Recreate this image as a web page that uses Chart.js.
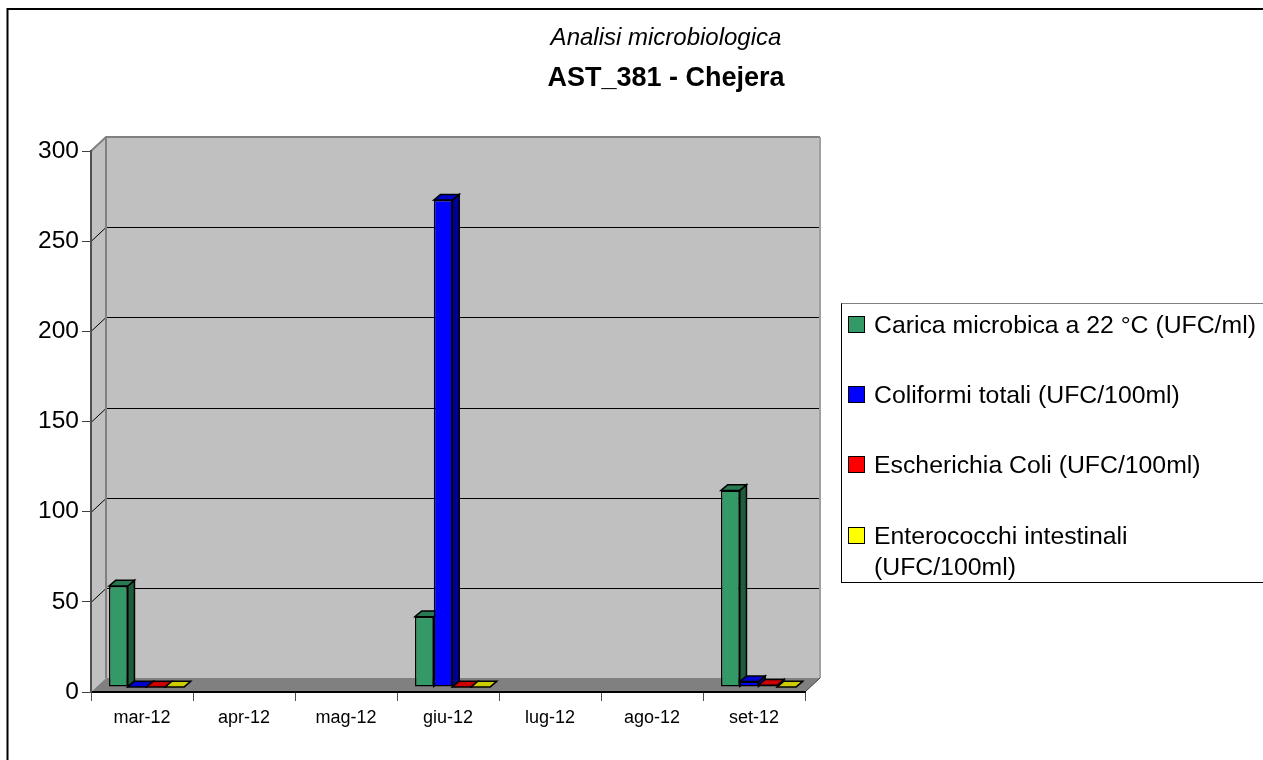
<!DOCTYPE html>
<html>
<head>
<meta charset="utf-8">
<title>Analisi microbiologica</title>
<script src="https://cdn.jsdelivr.net/npm/chart.js@4"></script>
<style>
  html, body { margin: 0; padding: 0; background: #fff; overflow: hidden; }
  #wrap { position: relative; width: 1263px; height: 760px; }
  #legend {
    position: absolute; left: 841px; top: 303px; width: 422px; height: 280px;
    box-sizing: border-box; border: 1px solid #000; border-right: 0; border-top-color: #808080;
    font: 24.8px "Liberation Sans", Arial, sans-serif; color: #000;
  }
  #legend .item { position: absolute; left: 32px; line-height: 31px; white-space: pre-line; }
  #legend .box {
    position: absolute; left: -26px; top: 7px; width: 17px; height: 17px;
    border: 1.5px solid #000; box-sizing: border-box;
  }
</style>
</head>
<body>
<div id="wrap">
  <canvas id="chart" width="1263" height="760"></canvas>
  <div id="legend"></div>
</div>
<script>
// Chart values
const categories = ["mar-12", "apr-12", "mag-12", "giu-12", "lug-12", "ago-12", "set-12"];
const seriesNames = [
  "Carica microbica a 22 °C (UFC/ml)",
  "Coliformi totali (UFC/100ml)",
  "Escherichia Coli (UFC/100ml)",
  "Enterococchi intestinali\n(UFC/100ml)"
];
const caricaMicrobica = [56, null, null, 39, null, null, 109];
const coliformiTotali = [0, null, null, 270, null, null, 3];
const escherichiaColi = [0, null, null, 0, null, null, 1];
const enterococchi = [0, null, null, 0, null, null, 0];
const seriesColors = ["#339966", "#0000ff", "#ff0000", "#ffff00"];
const sideColors = ["#1f5c3d", "#000099", "#990000", "#999900"];
const topColors = ["#297a52", "#0000cc", "#cc0000", "#cccc00"];

// 3D look of the old spreadsheet chart
const WALL_DX = 15, WALL_DY = 14;
const BAR_SHIFT_X = 4.5, BAR_SHIFT_Y = 5;
const BAR_DX = 6.7, BAR_DY = 5.7;

function fillPoly(ctx, pts, fill, stroke, lineWidth) {
  ctx.beginPath();
  pts.forEach((p, i) => (i ? ctx.lineTo(p[0], p[1]) : ctx.moveTo(p[0], p[1])));
  ctx.closePath();
  if (fill) { ctx.fillStyle = fill; ctx.fill(); }
  if (stroke) { ctx.strokeStyle = stroke; ctx.lineWidth = lineWidth || 1; ctx.stroke(); }
}

function drawBarFaces(ctx, chart, meta) {
  const values = chart.data.datasets[meta.index].data;
  meta.data.forEach((bar, i) => {
    if (values[i] === null) return;
    const left = bar.x - bar.width / 2, right = bar.x + bar.width / 2;
    const top = bar.y, base = bar.base;
    fillPoly(ctx, [[right, top], [right + BAR_DX, top - BAR_DY], [right + BAR_DX, base - BAR_DY], [right, base]], sideColors[meta.index], "#000", 1.5);
    fillPoly(ctx, [[left, top], [left + BAR_DX, top - BAR_DY], [right + BAR_DX, top - BAR_DY], [right, top]], topColors[meta.index], "#000", 1.5);
  });
}

const frame3d = {
  id: "frame3d",
  // the plot keeps 458px free on the right, but the titles centre on the whole picture
  afterLayout(chart) {
    chart.boxes.forEach((box) => {
      if (box.options && box.options.text) { box.left = 0; box.right = 1332; }
    });
  },
  beforeDraw(chart) {
    const { ctx, chartArea: a, scales } = chart;
    ctx.save();
    // outer frame is only visible on the top and left
    ctx.strokeStyle = "#000";
    ctx.lineWidth = 2;
    ctx.beginPath();
    ctx.moveTo(7.5, 760);
    ctx.lineTo(7.5, 9);
    ctx.lineTo(1263, 9);
    ctx.stroke();
    // left wall, back wall, floor
    fillPoly(ctx, [[a.left, a.top], [a.left + WALL_DX, a.top - WALL_DY], [a.left + WALL_DX, a.bottom - WALL_DY], [a.left, a.bottom]], "#c0c0c0");
    fillPoly(ctx, [[a.left + WALL_DX, a.top - WALL_DY], [a.right + WALL_DX, a.top - WALL_DY], [a.right + WALL_DX, a.bottom - WALL_DY], [a.left + WALL_DX, a.bottom - WALL_DY]], "#c0c0c0");
    fillPoly(ctx, [[a.left, a.bottom], [a.left + WALL_DX, a.bottom - WALL_DY], [a.right + WALL_DX, a.bottom - WALL_DY], [a.right, a.bottom]], "#808080");
    // gridlines run along the left wall and then the back wall
    scales.y.ticks.forEach((t) => {
      if (t.value === 0 || t.value === 300) return;
      const y = Math.round(scales.y.getPixelForValue(t.value));
      ctx.beginPath();
      ctx.moveTo(a.left, y + 0.5);
      ctx.lineTo(a.left + WALL_DX, y - WALL_DY + 0.5);
      ctx.lineTo(a.right + WALL_DX, y - WALL_DY + 0.5);
      ctx.strokeStyle = "#000";
      ctx.lineWidth = 1;
      ctx.stroke();
    });
    // wall edges
    ctx.strokeStyle = "#808080";
    ctx.lineWidth = 2;
    ctx.beginPath();
    ctx.moveTo(a.left, a.top);
    ctx.lineTo(a.left + WALL_DX, a.top - WALL_DY);
    ctx.lineTo(a.right + WALL_DX, a.top - WALL_DY);
    ctx.moveTo(a.left + WALL_DX, a.top - WALL_DY);
    ctx.lineTo(a.left + WALL_DX, a.bottom - WALL_DY);
    ctx.stroke();
    ctx.strokeStyle = "#a0a0a0";
    ctx.beginPath();
    ctx.moveTo(a.right + WALL_DX, a.top - WALL_DY);
    ctx.lineTo(a.right + WALL_DX, a.bottom - WALL_DY);
    ctx.stroke();
    ctx.strokeStyle = "#404040";
    ctx.lineWidth = 1;
    ctx.beginPath();
    ctx.moveTo(a.right, a.bottom);
    ctx.lineTo(a.right + WALL_DX, a.bottom - WALL_DY);
    ctx.stroke();
    ctx.restore();
  },
  // bars sit part way back on the floor and are painted left to right,
  // so each one covers the side face of its neighbour
  beforeDatasetsDraw(chart) {
    const ctx = chart.ctx;
    ctx.save();
    ctx.translate(BAR_SHIFT_X, -BAR_SHIFT_Y);
    chart.getSortedVisibleDatasetMetas().forEach((meta) => {
      meta.controller.draw();
      drawBarFaces(ctx, chart, meta);
    });
    ctx.restore();
    return false;
  }
};

const seriesValues = [caricaMicrobica, coliformiTotali, escherichiaColi, enterococchi];

new Chart(document.getElementById("chart"), {
  type: "bar",
  plugins: [frame3d],
  data: {
    labels: categories,
    datasets: seriesValues.map((values, i) => ({
      label: seriesNames[i],
      data: values,
      backgroundColor: seriesColors[i],
      borderColor: "#000",
      borderWidth: 1.5,
      borderSkipped: false,
      categoryPercentage: 0.735,
      barPercentage: 1
    }))
  },
  options: {
    responsive: false,
    animation: false,
    layout: { padding: { left: 0, right: 458, top: 0, bottom: 0 } },
    plugins: {
      legend: { display: false },
      tooltip: { enabled: false },
      title: {
        display: true,
        text: "Analisi microbiologica",
        color: "#000",
        font: { family: "Liberation Sans", size: 24, style: "italic", weight: "normal" },
        padding: { top: 24, bottom: 10 }
      },
      subtitle: {
        display: true,
        text: "AST_381 - Chejera",
        color: "#000",
        font: { family: "Liberation Sans", size: 27, weight: "bold" },
        padding: { top: 0, bottom: 55.8 }
      }
    },
    scales: {
      x: {
        afterFit: (s) => { s.height = 68; },
        grid: { offset: true, drawOnChartArea: false, drawTicks: true, tickLength: 9, color: "#505050", lineWidth: 1 },
        border: { display: true, color: "#000", width: 2 },
        ticks: { color: "#000", font: { family: "Liberation Sans", size: 18 }, padding: 6, maxRotation: 0 }
      },
      y: {
        min: 0,
        max: 300,
        afterFit: (s) => { s.width = 91; },
        grid: { drawOnChartArea: false, drawTicks: true, tickLength: 9, color: "#404040", lineWidth: 1 },
        border: { display: true, color: "#505050", width: 2 },
        ticks: { stepSize: 50, color: "#000", font: { family: "Liberation Sans", size: 24.5 }, padding: 3 }
      }
    }
  }
});

// legend box, same series names and colours as the chart
const legendTops = [309, 379, 449, 520];
const legend = document.getElementById("legend");
seriesNames.forEach((name, i) => {
  const item = document.createElement("div");
  item.className = "item";
  item.style.top = legendTops[i] - 304 + "px";
  item.textContent = name;
  const box = document.createElement("div");
  box.className = "box";
  box.style.background = seriesColors[i];
  item.appendChild(box);
  legend.appendChild(item);
});
</script>
</body>
</html>
